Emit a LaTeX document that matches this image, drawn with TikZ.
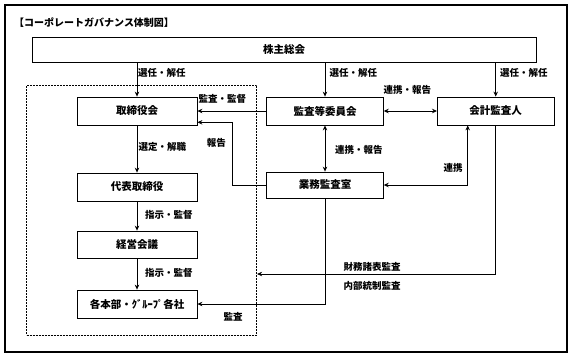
\documentclass[tikz,border=0pt]{standalone}
\usepackage{fontspec}
\setmainfont{Noto Sans CJK JP}
\usetikzlibrary{arrows.meta,calc}
\begin{document}
\begin{tikzpicture}[x=1pt,y=-1pt,
 orgbox/.style={draw, line width=0.8pt, minimum height=28pt, inner sep=0pt, font=\fontsize{10.5}{12}\selectfont\bfseries},
 lbl/.style={anchor=west, inner sep=0pt, font=\fontsize{9.5}{11}\selectfont\bfseries},
 arr/.style={line width=0.8pt, -{Stealth[length=5pt,width=4.5pt]}},
 darr/.style={line width=0.8pt, {Stealth[length=5pt,width=4.5pt]}-{Stealth[length=5pt,width=4.5pt]}},
 dashbox/.style={draw, line width=0.8pt, dash pattern=on 2pt off 1pt, inner sep=0pt}]
\useasboundingbox (0,0) rectangle (576,357);
\draw[line width=1.6pt] (5,5) rectangle (567,352);
\node[lbl, font=\fontsize{10}{12}\selectfont\bfseries] (title) at (14,23) {【コーポレートガバナンス体制図】};

\node[orgbox, minimum width=504pt, minimum height=25pt] (kabu) at (284,49.5) {株主総会};
\node[dashbox, minimum width=230pt, minimum height=250pt] (dbox) at (141.7,210) {};

\node[orgbox, minimum width=120pt] (tori) at (137,111) {取締役会};
\node[orgbox, minimum width=116.6pt] (kansa) at (325,111) {監査等委員会};
\node[orgbox, minimum width=116.6pt] (kaikei) at (495.7,111) {会計監査人};
\node[orgbox, minimum width=120pt] (daihyo) at (137,187) {代表取締役};
\node[orgbox, minimum width=120pt, minimum height=27pt] (keiei) at (137,244.5) {経営会議};
\node[orgbox, minimum width=120pt] (kaku) at (137,304) {各本部・ｸﾞﾙｰﾌﾟ各社};
\node[orgbox, minimum width=116.6pt, minimum height=26pt] (gyomu) at (325,185) {業務監査室};

\draw[arr] (kabu.south -| tori) -- (tori.north);
\draw[arr] (kabu.south -| kansa) -- (kansa.north);
\draw[arr] (kabu.south -| kaikei) -- (kaikei.north);
\draw[arr] (kansa.west) -- (tori.east);
\draw[darr] (kansa.east) -- (kaikei.west);
\draw[darr] (kansa.south) -- (gyomu.north);
\draw[arr] (tori.south) -- (daihyo.north);
\draw[arr] (daihyo.south) -- (keiei.north);
\draw[arr] (keiei.south) -- (kaku.north);
\coordinate (r1) at (232.3,122.3);
\draw[arr] (gyomu.west) -| (r1) -- (r1 -| tori.east);
\draw[darr] (gyomu.east) -| ([xshift=-28pt]kaikei.south);
\coordinate (f1) at (0,274);
\draw[arr] (kaikei.south) |- (dbox.east |- f1);
\draw[arr] (gyomu.south) |- (kaku.east);

\node[lbl] (l1) at (138,73.3) {選任・解任};
\node[lbl] (l2) at (329.3,73.3) {選任・解任};
\node[lbl] (l3) at (500,73.3) {選任・解任};
\node[lbl] (l4) at (198.3,99.3) {監査・監督};
\node[lbl] (l5) at (383.3,90) {連携・報告};
\node[lbl] (l6) at (206.7,143.3) {報告};
\node[lbl] (l7) at (138.3,146.7) {選定・解職};
\node[lbl] (l8) at (335,150) {連携・報告};
\node[lbl] (l9) at (443.3,168.3) {連携};
\node[lbl] (l10) at (145,215) {指示・監督};
\node[lbl] (l11) at (145,272.7) {指示・監督};
\node[lbl] (l12) at (343.3,266.7) {財務諸表監査};
\node[lbl] (l13) at (343.3,285.7) {内部統制監査};
\node[lbl] (l14) at (223.3,316.7) {監査};
\end{tikzpicture}
\end{document}
